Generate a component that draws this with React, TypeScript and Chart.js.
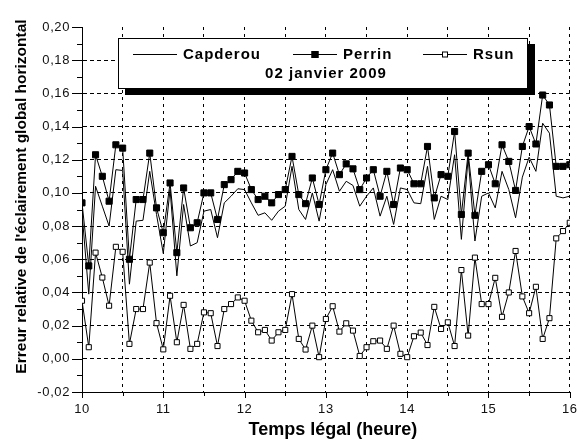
import React, { useEffect, useRef } from 'react';
import { Chart, registerables } from 'chart.js';

Chart.register(...registerables);

// Time stamps (legal time, every 5 minutes)
const times: string[] = [
  '10:00', '10:05', '10:10', '10:15', '10:20', '10:25', '10:30', '10:35', '10:40', '10:45', '10:50', '10:55',
  '11:00', '11:05', '11:10', '11:15', '11:20', '11:25', '11:30', '11:35', '11:40', '11:45', '11:50', '11:55',
  '12:00', '12:05', '12:10', '12:15', '12:20', '12:25', '12:30', '12:35', '12:40', '12:45', '12:50', '12:55',
  '13:00', '13:05', '13:10', '13:15', '13:20', '13:25', '13:30', '13:35', '13:40', '13:45', '13:50', '13:55',
  '14:00', '14:05', '14:10', '14:15', '14:20', '14:25', '14:30', '14:35', '14:40', '14:45', '14:50', '14:55',
  '15:00', '15:05', '15:10', '15:15', '15:20', '15:25', '15:30', '15:35', '15:40', '15:45', '15:50', '15:55',
  '16:00',
];

const capderou: number[] = [
  0.088, 0.039, 0.104, 0.092, 0.080, 0.114, 0.1135, 0.045, 0.083, 0.0835, 0.113, 0.087,
  0.0635, 0.102, 0.050, 0.093, 0.068, 0.070, 0.089, 0.090, 0.073, 0.094, 0.098, 0.1025,
  0.102, 0.094, 0.0865, 0.088, 0.0835, 0.089, 0.092, 0.116, 0.090, 0.084, 0.100, 0.083,
  0.105, 0.114, 0.101, 0.107, 0.1045, 0.092, 0.098, 0.103, 0.086, 0.098, 0.081, 0.103,
  0.102, 0.094, 0.0935, 0.116, 0.084, 0.098, 0.096, 0.123, 0.072, 0.121, 0.071, 0.098,
  0.100, 0.091, 0.113, 0.102, 0.085, 0.1095, 0.1215, 0.113, 0.142, 0.136, 0.098, 0.097,
  0.098,
];

const perrin: number[] = [
  0.094, 0.056, 0.123, 0.110, 0.095, 0.129, 0.127, 0.060, 0.096, 0.096, 0.124, 0.091,
  0.076, 0.106, 0.064, 0.103, 0.079, 0.082, 0.100, 0.100, 0.084, 0.105, 0.108, 0.113,
  0.112, 0.102, 0.096, 0.098, 0.094, 0.099, 0.102, 0.122, 0.099, 0.0935, 0.109, 0.093,
  0.114, 0.124, 0.111, 0.1175, 0.1145, 0.102, 0.109, 0.114, 0.098, 0.113, 0.093, 0.115,
  0.114, 0.1055, 0.1055, 0.128, 0.097, 0.111, 0.110, 0.137, 0.087, 0.124, 0.0865, 0.113,
  0.117, 0.1055, 0.129, 0.119, 0.1015, 0.128, 0.140, 0.1295, 0.159, 0.153, 0.116, 0.116,
  0.117,
];

const rsun: number[] = [
  0.035, 0.007, 0.064, 0.049, 0.032, 0.0675, 0.0645, 0.009, 0.030, 0.030, 0.058, 0.0215,
  0.0057, 0.038, 0.010, 0.0325, 0.006, 0.009, 0.028, 0.0275, 0.0077, 0.030, 0.033, 0.037,
  0.035, 0.023, 0.016, 0.0174, 0.011, 0.016, 0.0174, 0.039, 0.012, 0.0056, 0.020, 0.001,
  0.024, 0.0317, 0.0164, 0.0214, 0.017, 0.0017, 0.007, 0.0106, 0.011, 0.006, 0.020, 0.003,
  0.001, 0.0136, 0.0158, 0.0083, 0.0313, 0.018, 0.022, 0.0077, 0.0535, 0.014, 0.061, 0.033,
  0.033, 0.0488, 0.0253, 0.040, 0.065, 0.0376, 0.0275, 0.0434, 0.012, 0.0245, 0.0726, 0.077,
  0.082,
];

const seriesNames: string[] = ['Capderou', 'Perrin', 'Rsun'];
const subtitle = '02 janvier 2009';
const xTitle = 'Temps légal (heure)';
const yTitle = "Erreur relative de l'éclairement global horizontal";
const xRange: number[] = [10, 16];
const yRange: number[] = [-0.02, 0.2];

const FONT = '"Liberation Sans", Arial, sans-serif';

const toHours = (t: string) => {
  const [h, m] = t.split(':').map(Number);
  return h + m / 60;
};

const toPoints = (vals: number[]) => vals.map((v, i) => ({ x: toHours(times[i]), y: v }));

const decorPlugin = {
  id: 'decor',
  beforeDraw(chart: any) {
    chart.ctx.letterSpacing = '0.6px';
  },
  afterDraw(chart: any) {
    const ctx = chart.ctx as CanvasRenderingContext2D & { letterSpacing: string };
    const xs = chart.scales.x;
    const ys = chart.scales.y;
    ctx.save();
    ctx.letterSpacing = '0px';
    ctx.strokeStyle = '#000';
    ctx.lineWidth = 1;
    ctx.setLineDash([]);

    // y tick marks
    ys.ticks.forEach((t: any, i: number) => {
      const y = Math.round(ys.getPixelForValue(t.value)) + 0.5;
      const len = i % 2 === 0 ? 10 : 5;
      ctx.beginPath();
      ctx.moveTo(xs.left - len, y);
      ctx.lineTo(xs.left, y);
      ctx.stroke();
    });
    // x tick marks
    xs.ticks.forEach((t: any) => {
      const x = Math.round(xs.getPixelForValue(t.value)) + 0.5;
      const len = Math.abs(t.value - Math.round(t.value)) < 1e-9 ? 6 : 4;
      ctx.beginPath();
      ctx.moveTo(x, ys.bottom);
      ctx.lineTo(x, ys.bottom + len);
      ctx.stroke();
    });

    // axis titles
    ctx.fillStyle = '#000';
    ctx.textAlign = 'center';
    ctx.textBaseline = 'middle';
    ctx.font = `bold 18px ${FONT}`;
    ctx.fillText(xTitle, (xs.left + xs.right) / 2 + 7, 430);
    ctx.save();
    ctx.translate(22, (ys.top + ys.bottom) / 2 - 13);
    ctx.rotate(-Math.PI / 2);
    ctx.font = `bold 15.5px ${FONT}`;
    ctx.fillText(yTitle, 0, 0);
    ctx.restore();

    // legend box with shadow
    const bx = 118, by = 38, bw = 410, bh = 51;
    ctx.fillStyle = '#000';
    ctx.fillRect(bx + 7, by + 6, bw, bh);
    ctx.fillStyle = '#fff';
    ctx.fillRect(bx, by, bw, bh);
    ctx.strokeStyle = '#000';
    ctx.strokeRect(bx + 0.5, by + 0.5, bw - 1, bh - 1);

    const rowY = 54;
    const starts = [133, 293, 423];
    ctx.font = `bold 15px ${FONT}`;
    ctx.letterSpacing = '1px';
    ctx.textAlign = 'left';
    chart.data.datasets.forEach((ds: any, i: number) => {
      const x0 = starts[i];
      ctx.strokeStyle = '#000';
      ctx.lineWidth = 1;
      ctx.beginPath();
      ctx.moveTo(x0, rowY + 0.5);
      ctx.lineTo(x0 + 44, rowY + 0.5);
      ctx.stroke();
      if (ds.pointRadius > 0) {
        const s = i === 1 ? 7 : 6;
        const cx = x0 + 22;
        ctx.fillStyle = ds.pointBackgroundColor;
        ctx.fillRect(cx - s / 2, rowY + 0.5 - s / 2, s, s);
        ctx.strokeRect(cx - s / 2 + 0.5, rowY + 0.5 - s / 2 + 0.5, s - 1, s - 1);
      }
      ctx.fillStyle = '#000';
      ctx.fillText(ds.label, x0 + 50, rowY + 1);
    });
    ctx.textAlign = 'center';
    ctx.fillText(subtitle, 326, 74);

    ctx.restore();
  },
};

export default function App() {
  const ref = useRef<HTMLCanvasElement | null>(null);

  useEffect(() => {
    document.body.style.margin = '0';
    const canvas = ref.current;
    if (!canvas) return;
    const chart = new Chart(canvas, {
      type: 'line',
      data: {
        datasets: [
          {
            label: seriesNames[0],
            data: toPoints(capderou),
            borderColor: '#000',
            borderWidth: 1,
            pointRadius: 0,
            pointBackgroundColor: '#000',
            tension: 0,
          },
          {
            label: seriesNames[1],
            data: toPoints(perrin),
            borderColor: '#000',
            borderWidth: 1,
            pointStyle: 'rect',
            pointRadius: 4.3,
            pointBackgroundColor: '#000',
            pointBorderColor: '#000',
            pointBorderWidth: 1,
            tension: 0,
          },
          {
            label: seriesNames[2],
            data: toPoints(rsun),
            borderColor: '#000',
            borderWidth: 1,
            pointStyle: 'rect',
            pointRadius: 3.6,
            pointBackgroundColor: '#fff',
            pointBorderColor: '#000',
            pointBorderWidth: 1,
            tension: 0,
          },
        ],
      },
      options: {
        responsive: false,
        animation: false,
        events: [],
        layout: { padding: { left: 0, right: 9, top: 27, bottom: 0 } },
        plugins: {
          legend: { display: false },
          title: { display: false },
          tooltip: { enabled: false },
        },
        scales: {
          x: {
            type: 'linear',
            min: xRange[0],
            max: xRange[1],
            afterFit: (scale: any) => {
              scale.height = 52;
            },
            ticks: {
              stepSize: 0.5,
              autoSkip: false,
              maxRotation: 0,
              padding: 10,
              color: '#111',
              font: { family: FONT, size: 13 },
              callback: (value: any) => {
                const v = Number(value);
                return Math.abs(v - Math.round(v)) < 1e-9 ? String(Math.round(v)) : '';
              },
            },
            grid: {
              color: '#000',
              lineWidth: 1,
              drawTicks: false,
            },
            border: { display: true, color: '#000', width: 1, dash: [3, 4] },
          },
          y: {
            type: 'linear',
            min: yRange[0],
            max: yRange[1],
            afterFit: (scale: any) => {
              scale.width = 82;
            },
            ticks: {
              stepSize: 0.01,
              autoSkip: false,
              padding: 12,
              color: '#111',
              font: { family: FONT, size: 13 },
              callback: (value: any, index: number) => {
                if (index % 2 !== 0) return '';
                let v = Number(value);
                if (Math.abs(v) < 1e-9) v = 0;
                return v.toFixed(2).replace('.', ',');
              },
            },
            grid: {
              color: (c: any) => (c.index % 2 === 0 && c.index !== 22 ? '#000' : 'rgba(0,0,0,0)'),
              lineWidth: 1,
              drawTicks: false,
            },
            border: { display: true, color: '#000', width: 1, dash: [4, 3] },
          },
        },
      },
      plugins: [decorPlugin],
    } as any);
    return () => chart.destroy();
  }, []);

  return (
    <div style={{ width: 587, height: 444, background: '#fff', overflow: 'hidden' }}>
      <canvas ref={ref} width={587} height={444} style={{ display: 'block' }} />
    </div>
  );
}
